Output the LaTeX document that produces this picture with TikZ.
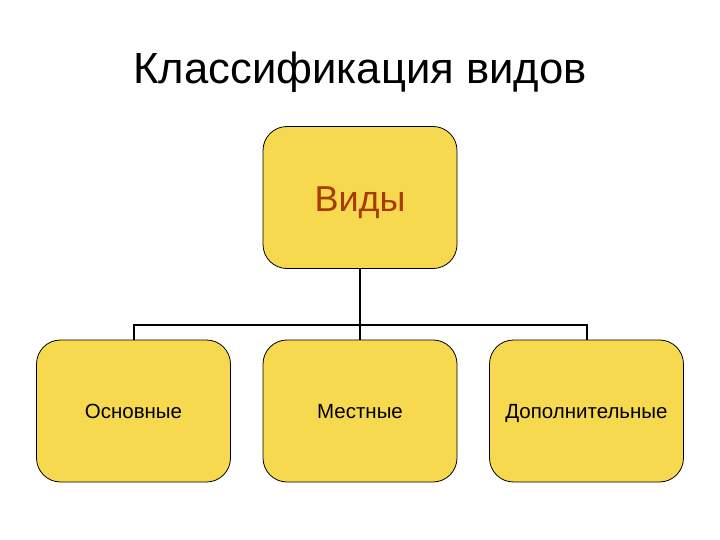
\documentclass[tikz,border=0pt]{standalone}
\usepackage{fontspec}
\setmainfont{Liberation Sans}
\definecolor{boxfill}{HTML}{F6D94E}
\definecolor{topText}{HTML}{A83A00}
\newcommand{\lowtext}[2]{\raisebox{-#1}[0pt][0pt]{#2}}
\begin{document}
\begin{tikzpicture}[x=1pt,y=-1pt,
  box/.style={draw=black,line width=0.8pt,fill=boxfill,rounded corners=24pt,minimum width=194pt,minimum height=142pt,inner sep=0pt},
  conn/.style={draw=black,line width=2pt}]
\useasboundingbox (0,0) rectangle (720,540);
\node (title) at (360,72) {\fontsize{43.6}{50}\selectfont Классификация видов};
\node[box,font=\fontsize{36}{40}\selectfont] (top) at (360,197.5) {\lowtext{14.4pt}{\color{topText}Виды}};
\node[box,font=\fontsize{20.5}{24}\selectfont] (a) at (133.5,411) {\lowtext{7.8pt}{Основные}};
\node[box,font=\fontsize{20.5}{24}\selectfont] (b) at (360,411) {\lowtext{7.8pt}{Местные}};
\node[box,font=\fontsize{20.5}{24}\selectfont] (c) at (586.5,411) {\lowtext{7.8pt}{Дополнительные}};
\coordinate (j) at (360,325);
\draw[conn] (top.south) -- (j);
\draw[conn] (a.north) -- (133.5,325) -- (586.5,325) -- (c.north);
\draw[conn] (j) -- (b.north);
\end{tikzpicture}
\end{document}
